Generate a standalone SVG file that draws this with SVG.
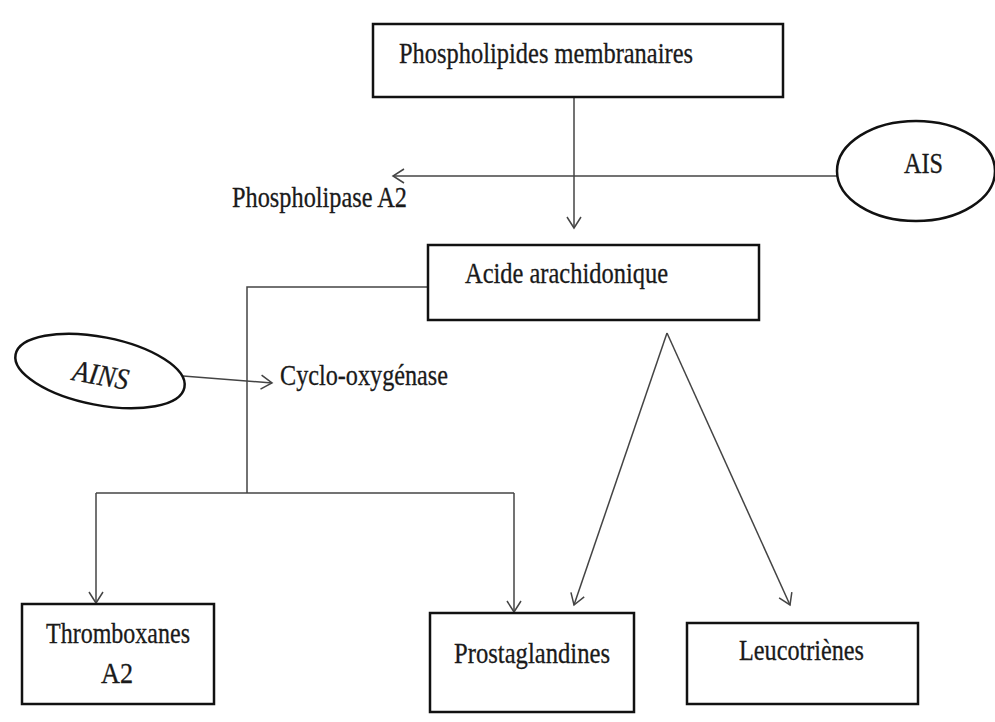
<svg xmlns="http://www.w3.org/2000/svg" width="995" height="722" viewBox="0 0 995 722">
  <defs>
    <marker id="arr" markerUnits="userSpaceOnUse" markerWidth="20" markerHeight="20" refX="12" refY="8" orient="auto">
      <path d="M1,1 L12,8 L1,15" fill="none" stroke="#444" stroke-width="1.5"/>
    </marker>
    <style>
      .box { fill: #fff; stroke: #111; stroke-width: 2.5; }
      .ell { fill: #fff; stroke: #111; stroke-width: 2.5; }
      .lbl { font-family: "Liberation Serif", "Times New Roman", serif; font-size: 30px; fill: #1a1a1a; stroke: #1a1a1a; stroke-width: 0.3; }
      .conn { fill: none; stroke: #444; stroke-width: 1.5; }
      .arrow { marker-end: url(#arr); }
    </style>
  </defs>
  <rect width="995" height="722" fill="#fff"/>

  <g id="connectors">
    <line class="conn arrow" x1="574" y1="97" x2="574" y2="228"/>
    <line class="conn arrow" x1="837" y1="176" x2="393" y2="176"/>
    <polyline class="conn" points="428,287 247,287 247,493"/>
    <line class="conn" x1="96" y1="493" x2="514" y2="493"/>
    <line class="conn arrow" x1="96" y1="493" x2="96" y2="603"/>
    <line class="conn arrow" x1="514" y1="493" x2="514" y2="612"/>
    <line class="conn arrow" x1="183" y1="376" x2="272" y2="383"/>
    <line class="conn arrow" x1="667" y1="333" x2="574" y2="605"/>
    <line class="conn arrow" x1="667" y1="333" x2="790" y2="605"/>
  </g>

  <g id="phospholipides">
    <rect class="box" x="373" y="24" width="410" height="73"/>
    <text class="lbl" x="399" y="63" textLength="294" lengthAdjust="spacingAndGlyphs">Phospholipides membranaires</text>
  </g>

  <g id="phospholipase">
    <text class="lbl" x="232" y="207" textLength="175" lengthAdjust="spacingAndGlyphs">Phospholipase A2</text>
  </g>

  <g id="ais">
    <ellipse class="ell" cx="916" cy="171" rx="79" ry="50"/>
    <text class="lbl" x="904" y="173" textLength="39" lengthAdjust="spacingAndGlyphs">AIS</text>
  </g>

  <g id="acide">
    <rect class="box" x="428" y="245" width="331" height="75"/>
    <text class="lbl" x="465" y="283" textLength="203" lengthAdjust="spacingAndGlyphs">Acide arachidonique</text>
  </g>

  <g id="ains">
    <ellipse class="ell" cx="100" cy="371" rx="86" ry="34" transform="rotate(11 100 371)"/>
    <text class="lbl" x="72" y="385" font-style="italic" textLength="56" lengthAdjust="spacingAndGlyphs" transform="rotate(10 100 380)">AINS</text>
  </g>

  <g id="cyclo">
    <text class="lbl" x="280" y="385" textLength="168" lengthAdjust="spacingAndGlyphs">Cyclo-oxygénase</text>
  </g>

  <g id="thromboxanes">
    <rect class="box" x="22" y="604" width="192" height="100"/>
    <text class="lbl" x="46" y="643" textLength="144" lengthAdjust="spacingAndGlyphs">Thromboxanes</text>
    <text class="lbl" x="101" y="683" textLength="32" lengthAdjust="spacingAndGlyphs">A2</text>
  </g>

  <g id="prostaglandines">
    <rect class="box" x="430" y="613" width="204" height="99"/>
    <text class="lbl" x="454" y="663" textLength="156" lengthAdjust="spacingAndGlyphs">Prostaglandines</text>
  </g>

  <g id="leucotrienes">
    <rect class="box" x="687" y="623" width="231" height="81"/>
    <text class="lbl" x="739" y="660" textLength="125" lengthAdjust="spacingAndGlyphs">Leucotriènes</text>
  </g>
</svg>
